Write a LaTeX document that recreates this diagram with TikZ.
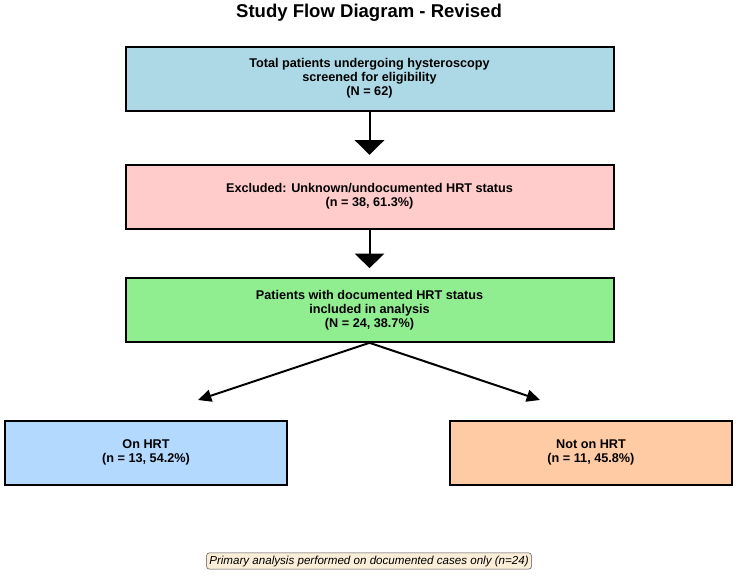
\documentclass[tikz,border=0pt]{standalone}
\usepackage{fontspec}
\setmainfont{Liberation Sans}
\usetikzlibrary{arrows.meta, positioning}

\definecolor{screenblue}{RGB}{173,216,230}
\definecolor{exclpink}{RGB}{255,204,203}
\definecolor{inclgreen}{RGB}{144,238,144}
\definecolor{hrtblue}{RGB}{179,217,255}
\definecolor{nohrtpeach}{RGB}{255,203,164}
\definecolor{notefill}{RGB}{250,238,217}

\begin{document}
\begin{tikzpicture}[
    x=0.75pt, y=-0.75pt,
    box/.style   ={draw, line width=1.5pt, minimum width=366pt, minimum height=48pt,
                   inner sep=0pt, align=center, font=\bfseries\fontsize{9.5}{10.5}\selectfont},
    armbox/.style={box, minimum width=212pt},
    note/.style  ={draw=black!70, fill=notefill, rounded corners=2pt, inner sep=2pt,
                   font=\itshape\fontsize{8.7}{10}\selectfont},
    arrow/.style ={-{Triangle[length=11pt, width=22pt]}, line width=1.5pt},
    split/.style ={-{Triangle[length=10pt, width=9pt]}, line width=1.5pt},
]
\useasboundingbox (0,0) rectangle (738,575);

% ── Title ──────────────────────────────────────────────────────────────
\node[font=\bfseries\fontsize{13.9}{16}\selectfont] (title) at (369,13) {Study Flow Diagram - Revised};

% ── Main flow ──────────────────────────────────────────────────────────
\node[box, fill=screenblue] (screen) at (369.5,78.5)
      {Total patients undergoing hysteroscopy\\screened for eligibility\\(N = 62)};
\node[box, fill=exclpink,  below=39pt of screen] (excl)
      {Excluded: Unknown/undocumented HRT status\\(n = 38, 61.3\%)};
\node[box, fill=inclgreen, below=35.5pt of excl]   (incl)
      {Patients with documented HRT status\\included in analysis\\(N = 24, 38.7\%)};

% ── Groups ─────────────────────────────────────────────────────────────
\node[armbox, fill=hrtblue,    below=57.5pt of incl, xshift=-167.6pt] (onhrt)
      {On HRT\\(n = 13, 54.2\%)};
\node[armbox, fill=nohrtpeach, below=57.5pt of incl, xshift=166.1pt]  (nohrt)
      {Not on HRT\\(n = 11, 45.8\%)};

% ── Note ───────────────────────────────────────────────────────────────
\node[note] (foot) at (369,561) {Primary analysis performed on documented cases only (n=24)};

% ── Arrows ─────────────────────────────────────────────────────────────
\coordinate (ontip)  at (198,400);
\coordinate (offtip) at (540,400);
\draw[arrow, shorten >=6.5pt] (screen) -- (excl);
\draw[arrow, shorten >=6.5pt] (excl)   -- (incl);
\draw[split] (incl.south) -- (ontip);
\draw[split] (incl.south) -- (offtip);

\end{tikzpicture}
\end{document}
